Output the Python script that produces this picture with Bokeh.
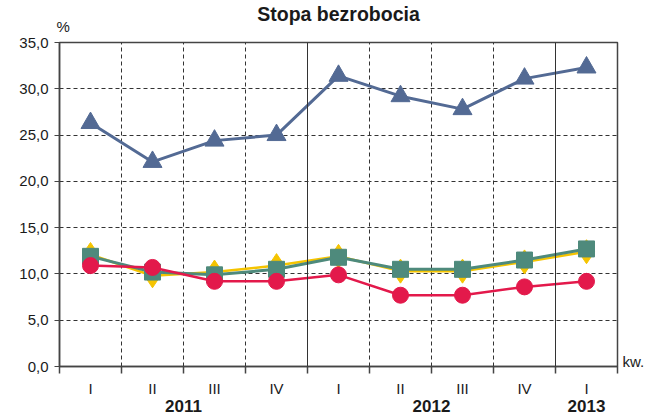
from bokeh.plotting import figure
from bokeh.models import (FixedTicker, LinearAxis, Span, Range1d, Grid,
                          CustomJSTickFormatter)
from bokeh.embed import file_html
from bokeh.resources import INLINE

# ---- data ----
quarters = ["I", "II", "III", "IV", "I", "II", "III", "IV", "I"]
year_names = ["2011", "2012", "2013"]
year_pos = [2.0, 6.0, 8.5]          # centre of each year's block of quarters
year_breaks = [4, 8]                # solid separators between years
y_ticks = [0, 5, 10, 15, 20, 25, 30, 35]

blue = [26.3, 22.1, 24.4, 25.0, 31.4, 29.2, 27.8, 31.1, 32.3]
yellow = [12.1, 9.8, 10.2, 10.9, 11.9, 10.3, 10.3, 11.3, 12.4]
green = [11.9, 10.2, 9.9, 10.5, 11.8, 10.5, 10.5, 11.5, 12.7]
red = [10.9, 10.7, 9.2, 9.2, 9.9, 7.7, 7.7, 8.6, 9.2]

unit_y = "%"
unit_x = "kw."

xs = [i + 0.5 for i in range(len(quarters))]

FONT = "Liberation Sans"
TXT = "#1a1a1a"
EDGE = "#444444"

p = figure(width=649, height=414, output_backend="svg", toolbar_location=None,
           x_range=Range1d(0, len(quarters)), y_range=Range1d(0, 35),
           min_border_left=59, min_border_right=32, min_border_top=42,
           min_border_bottom=40, x_axis_type=None)

p.title.text = "Stopa bezrobocia"
p.title.align = "center"
p.title.text_font = FONT
p.title.text_font_size = "19.5px"
p.title.text_font_style = "bold"
p.title.text_color = TXT
p.title.standoff = -20

p.outline_line_color = EDGE
p.outline_line_width = 1.5
p.background_fill_color = "white"
p.border_fill_color = "white"

# y axis
ya = p.yaxis[0]
ya.ticker = FixedTicker(ticks=y_ticks)
ya.formatter = CustomJSTickFormatter(code="return tick.toFixed(1).replace('.', ',')")
ya.major_label_text_font = FONT
ya.major_label_text_font_size = "15px"
ya.major_label_text_color = TXT
ya.major_tick_out = 5
ya.major_tick_in = 0
ya.minor_tick_line_color = None
ya.axis_line_color = EDGE
ya.axis_line_width = 1.5
ya.major_tick_line_color = EDGE
ya.major_label_standoff = 6

# x axis with quarter labels
xa = LinearAxis(ticker=FixedTicker(ticks=xs, minor_ticks=list(range(len(quarters) + 1))),
                formatter=CustomJSTickFormatter(args=dict(labels=quarters),
                                                code="return labels[Math.floor(tick)]"))
xa.major_label_text_font = FONT
xa.major_label_text_font_size = "15px"
xa.major_label_text_color = TXT
xa.major_tick_out = 0
xa.major_tick_in = 0
xa.major_tick_line_color = None
xa.minor_tick_out = 7
xa.minor_tick_in = 0
xa.minor_tick_line_color = EDGE
xa.minor_tick_line_width = 1.5
xa.axis_line_color = EDGE
xa.axis_line_width = 1.5
xa.major_label_standoff = 6
p.add_layout(xa, "below")

# year axis
yr = LinearAxis(ticker=FixedTicker(ticks=year_pos),
                formatter=CustomJSTickFormatter(args=dict(pos=year_pos, names=year_names),
                                                code="return names[pos.indexOf(tick)]"))
yr.axis_line_color = None
yr.major_tick_line_color = None
yr.minor_tick_line_color = None
yr.major_tick_out = 0
yr.major_tick_in = 0
yr.major_label_standoff = 0
yr.major_label_text_font = FONT
yr.major_label_text_font_size = "17px"
yr.major_label_text_font_style = "bold"
yr.major_label_text_color = TXT
p.add_layout(yr, "below")

# "%" unit above the y axis
pa = LinearAxis(ticker=FixedTicker(ticks=[0.06]),
                formatter=CustomJSTickFormatter(args=dict(t=unit_y), code="return t"))
pa.axis_line_color = None
pa.major_tick_line_color = None
pa.minor_tick_line_color = None
pa.major_tick_out = 0
pa.major_tick_in = 0
pa.major_label_standoff = 8
pa.major_label_text_font = FONT
pa.major_label_text_font_size = "15px"
pa.major_label_text_color = TXT
p.add_layout(pa, "above")

# "kw." unit right of the x axis
ka = LinearAxis(ticker=FixedTicker(ticks=[0.55]),
                formatter=CustomJSTickFormatter(args=dict(t=unit_x), code="return t"))
ka.axis_line_color = None
ka.major_tick_line_color = None
ka.minor_tick_line_color = None
ka.major_tick_out = 0
ka.major_tick_in = 0
ka.major_label_standoff = 5
ka.major_label_text_font = FONT
ka.major_label_text_font_size = "15px"
ka.major_label_text_color = TXT
p.add_layout(ka, "right")

# grids
p.ygrid.ticker = FixedTicker(ticks=y_ticks)
p.ygrid.grid_line_color = "#333333"
p.ygrid.grid_line_dash = "4 3"
p.ygrid.grid_line_width = 1
p.xgrid.visible = False
vg = Grid(dimension=0, ticker=FixedTicker(ticks=[b for b in range(1, len(quarters)) if b not in year_breaks]),
          grid_line_color="#333333", grid_line_dash="4 3", grid_line_width=1)
p.add_layout(vg)
for b in year_breaks:
    p.add_layout(Span(location=b, dimension="height", line_color="#333333", line_width=1))

# series
p.line(xs, blue, line_color="#536A94", line_width=3)
p.scatter(xs, blue, marker="triangle", size=19, fill_color="#536A94", line_color="#536A94")

p.line(xs, yellow, line_color="#F5C400", line_width=2.5)
p.scatter(xs, yellow, marker="diamond", size=24, fill_color="#F5C400", line_color="#F5C400")

p.line(xs, green, line_color="#4E8A7C", line_width=3)
p.scatter(xs, green, marker="square", size=16, fill_color="#4E8A7C", line_color="#4E8A7C")

p.line(xs, red, line_color="#E3194B", line_width=2.5)
p.scatter(xs, red, marker="circle", size=16, fill_color="#E3194B", line_color="#E3194B")

open("out.html", "w").write(file_html(p, INLINE))
